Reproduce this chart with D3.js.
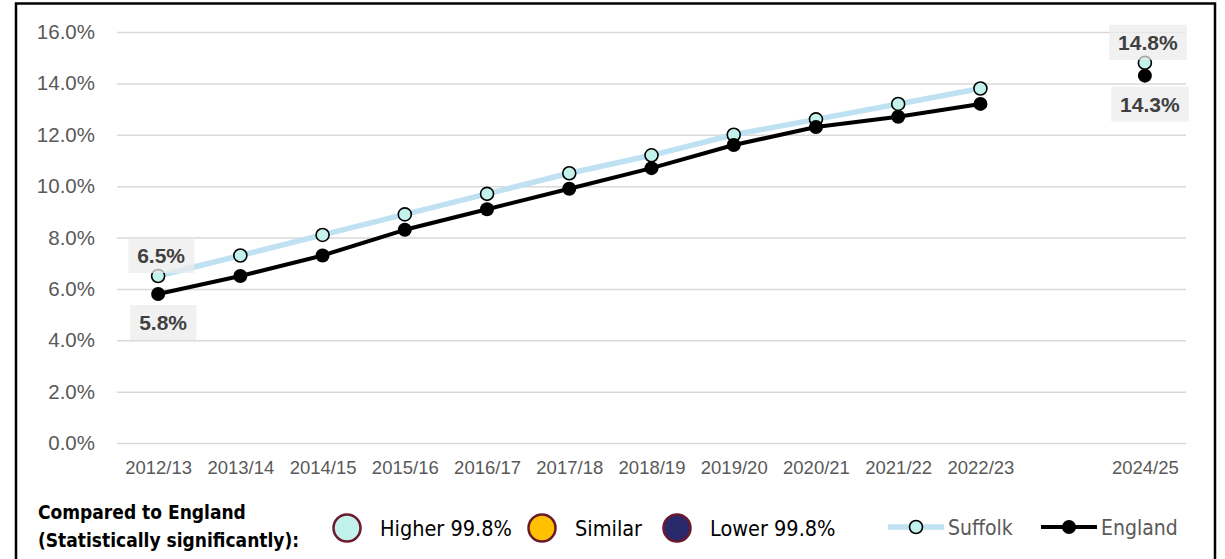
<!DOCTYPE html>
<html>
<head>
<meta charset="utf-8">
<script src="https://cdn.jsdelivr.net/npm/d3@7"></script>
<style>
  body { margin: 0; background: #fff; }
  svg { display: block; }
</style>
</head>
<body>
<svg id="chart" width="1225" height="559"></svg>
<script>
// Financial years on the x axis (2023/24 has no published value, so its label is blank)
const periods = ["2012/13", "2013/14", "2014/15", "2015/16", "2016/17", "2017/18",
                 "2018/19", "2019/20", "2020/21", "2021/22", "2022/23", "2023/24", "2024/25"];
const periodLabels = ["2012/13", "2013/14", "2014/15", "2015/16", "2016/17", "2017/18",
                      "2018/19", "2019/20", "2020/21", "2021/22", "2022/23", "", "2024/25"];

// Percentage values per year
const suffolk = [6.5, 7.3, 8.1, 8.9, 9.7, 10.5, 11.2, 12.0, 12.6, 13.2, 13.8, null, 14.8];
const england = [5.8, 6.5, 7.3, 8.3, 9.1, 9.9, 10.7, 11.6, 12.3, 12.7, 13.2, null, 14.3];

// Y axis ticks (percent)
const yTicks = [0, 2, 4, 6, 8, 10, 12, 14, 16];

// Points that carry a value label (first and latest year)
const labelledPoints = [0, 12];

// Significance legend entries
const significance = ["Higher 99.8%", "Similar", "Lower 99.8%"];
const significanceColours = ["#c3f1ec", "#ffc000", "#29296b"];

const svg = d3.select("#chart");
const fmt = v => v.toFixed(1) + "%";

const x = d3.scalePoint().domain(periods).range([117, 1186]).padding(0.5);
const y = d3.scaleLinear().domain([0, 16]).range([443, 32]);

// Outer frame
svg.append("path")
  .attr("d", "M16,600 V3.5 H1215 V600")
  .attr("fill", "none").attr("stroke", "#000").attr("stroke-width", 2.5);

// Gridlines and y tick labels
const yAxis = d3.axisLeft(y).tickValues(yTicks).tickSize(-(1186 - 117)).tickFormat(d => fmt(d)).tickPadding(22);
const gy = svg.append("g").attr("transform", "translate(117,0)").call(yAxis);
gy.select(".domain").remove();
gy.selectAll(".tick line").attr("stroke", "#d9d9d9").attr("stroke-width", 1.5);
gy.selectAll(".tick text")
  .attr("fill", "#595959")
  .style("font-family", "'Liberation Sans', Arial, sans-serif")
  .style("font-size", "20.5px");

// X tick labels
const xAxis = d3.axisBottom(x).tickSize(0).tickPadding(18).tickFormat((d, i) => periodLabels[i]);
const gx = svg.append("g").attr("transform", "translate(0,443)").call(xAxis);
gx.select(".domain").remove();
gx.selectAll(".tick text")
  .attr("fill", "#595959")
  .style("font-family", "'Liberation Sans', Arial, sans-serif")
  .style("font-size", "18.5px");

// Series lines (break across the missing year)
const line = d3.line()
  .defined(d => d.v != null)
  .x(d => x(d.p))
  .y(d => y(d.v));

const suffolkPts = periods.map((p, i) => ({ p, v: suffolk[i] }));
const englandPts = periods.map((p, i) => ({ p, v: england[i] }));

svg.append("path").datum(suffolkPts)
  .attr("d", line).attr("fill", "none")
  .attr("stroke", "#bfe2f3").attr("stroke-width", 5.5).attr("stroke-linejoin", "round");

svg.append("path").datum(englandPts)
  .attr("d", line).attr("fill", "none")
  .attr("stroke", "#000").attr("stroke-width", 4).attr("stroke-linejoin", "round");

// Markers
svg.append("g").selectAll("circle")
  .data(suffolkPts.filter(d => d.v != null))
  .join("circle")
  .attr("cx", d => x(d.p)).attr("cy", d => y(d.v)).attr("r", 6.5)
  .attr("fill", "#c3f1ec").attr("stroke", "#000").attr("stroke-width", 1.6);

svg.append("g").selectAll("circle")
  .data(englandPts.filter(d => d.v != null))
  .join("circle")
  .attr("cx", d => x(d.p)).attr("cy", d => y(d.v)).attr("r", 7)
  .attr("fill", "#000");

// Value labels on shaded boxes
function valueLabel(px, py, text) {
  const g = svg.append("g");
  const t = g.append("text")
    .attr("x", px).attr("y", py)
    .attr("text-anchor", "middle")
    .attr("fill", "#404040")
    .style("font-family", "'Liberation Sans', Arial, sans-serif")
    .style("font-weight", "bold")
    .style("font-size", "21px")
    .text(text);
  const bb = t.node().getBBox();
  g.insert("rect", "text")
    .attr("x", bb.x - 9).attr("y", bb.y - 6)
    .attr("width", bb.width + 18).attr("height", bb.height + 12)
    .attr("fill", "#ececec").attr("fill-opacity", 0.72);
}

labelledPoints.forEach(i => {
  const px = x(periods[i]);
  valueLabel(px + 3, y(suffolk[i]) - 13, fmt(suffolk[i]));
  valueLabel(px + 5, y(england[i]) + 36, fmt(england[i]));
});

// Legend: significance key
const legendFont = "'DejaVu Sans Condensed', 'DejaVu Sans', sans-serif";
svg.append("text").attr("x", 38).attr("y", 519)
  .style("font-family", legendFont).style("font-weight", "bold").style("font-size", "19px")
  .attr("fill", "#000").text("Compared to England");
svg.append("text").attr("x", 38).attr("y", 547)
  .style("font-family", legendFont).style("font-weight", "bold").style("font-size", "19px")
  .attr("fill", "#000").text("(Statistically significantly):");

const sigX = [347, 542, 677];
significance.forEach((s, i) => {
  svg.append("circle").attr("cx", sigX[i]).attr("cy", 528).attr("r", 13.5)
    .attr("fill", significanceColours[i]).attr("stroke", "#6b1a2e").attr("stroke-width", 2.5);
  svg.append("text").attr("x", sigX[i] + 33).attr("y", 535.5)
    .style("font-family", legendFont).style("font-size", "21.5px")
    .attr("fill", "#000").text(s);
});

// Legend: series
const seriesLegend = [
  { name: "Suffolk", x0: 888, stroke: "#bfe2f3", width: 5.5, fill: "#c3f1ec", mstroke: "#000", r: 6.5 },
  { name: "England", x0: 1041, stroke: "#000", width: 4, fill: "#000", mstroke: "none", r: 7 }
];
seriesLegend.forEach(s => {
  svg.append("line").attr("x1", s.x0).attr("x2", s.x0 + 56).attr("y1", 527).attr("y2", 527)
    .attr("stroke", s.stroke).attr("stroke-width", s.width);
  svg.append("circle").attr("cx", s.x0 + 28).attr("cy", 527).attr("r", s.r)
    .attr("fill", s.fill).attr("stroke", s.mstroke).attr("stroke-width", 1.6);
  svg.append("text").attr("x", s.x0 + 60).attr("y", 534.5)
    .style("font-family", legendFont).style("font-size", "21px")
    .attr("fill", "#595959").text(s.name);
});
</script>
</body>
</html>
